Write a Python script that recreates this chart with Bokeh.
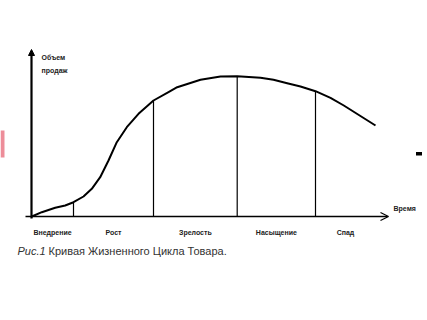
from bokeh.plotting import figure
from bokeh.models import Range1d, Label, Arrow, OpenHead, NormalHead
from bokeh.embed import file_html
from bokeh.resources import INLINE

# Curve of product life cycle (time units, sales volume units)
time_pts = [0.3, 10.3, 23.7, 33.7, 42, 52, 60.3, 68.7, 77, 85.3, 95.3, 107, 122, 137,
            145.7, 169, 189, 205.7, 229, 242, 255.7, 269, 284, 299, 312.3, 344]
sales_pts = [0, 4.3, 8.7, 11, 14.3, 20, 27.7, 39.3, 56, 74.3, 89.3, 102.7, 116, 124.3,
             129.3, 136.7, 140, 140.3, 138.7, 136.7, 133.3, 130, 125.3, 118.7, 111, 91]

# Stage boundaries (time) and names
boundaries = [42, 122, 205.7, 284]
stage_names = ["Внедрение", "Рост", "Зрелость", "Насыщение", "Спад"]
y_title = ["Объем", "продаж"]
x_title = "Время"
caption_fig = "Рис.1"
caption_text = "Кривая Жизненного Цикла Товара."

def curve_at(t):
    for i in range(len(time_pts) - 1):
        if time_pts[i] <= t <= time_pts[i + 1]:
            f = (t - time_pts[i]) / (time_pts[i + 1] - time_pts[i])
            return sales_pts[i] + f * (sales_pts[i + 1] - sales_pts[i])
    return 0

W, H = 427, 320
p = figure(width=W, height=H, output_backend="svg", toolbar_location=None,
           x_range=Range1d(-31, 396), y_range=Range1d(-104, 216),
           min_border=0, min_border_left=0, min_border_right=0,
           min_border_top=0, min_border_bottom=0)
p.axis.visible = False
p.grid.visible = False
p.outline_line_color = None
p.background_fill_color = "white"
p.border_fill_color = "white"

# axes with arrows
p.add_layout(Arrow(end=NormalHead(size=6, fill_color="black", line_color="black"),
                   x_start=0, y_start=-2, x_end=0, y_end=167,
                   line_width=2.2, line_color="black"))
p.add_layout(Arrow(end=OpenHead(size=8, line_width=1.2, line_color="black"),
                   x_start=-6, y_start=0, x_end=357, y_end=0,
                   line_width=1.6, line_color="black"))

# curve
p.line(time_pts, sales_pts, line_width=2, line_color="black", line_join="round")

# stage boundaries
for b in boundaries:
    p.segment(x0=[b], y0=[0], x1=[b], y1=[curve_at(b)], line_width=1.2, line_color="black")

# stage labels at stage midpoints
edges = [0] + boundaries + [time_pts[-1]]
for i, name in enumerate(stage_names):
    mid = (edges[i] + edges[i + 1]) / 2
    p.add_layout(Label(x=mid, y=-16, text=name, text_font="Liberation Sans",
                       text_font_size="7px", text_font_style="bold",
                       text_color="#222222", text_align="center", text_baseline="middle"))

# axis titles
p.add_layout(Label(x=10, y=159, text=y_title[0], text_font="Liberation Sans",
                   text_font_size="7px", text_font_style="bold", text_color="#222222",
                   text_baseline="middle"))
p.add_layout(Label(x=10, y=146, text=y_title[1], text_font="Liberation Sans",
                   text_font_size="7px", text_font_style="bold", text_color="#222222",
                   text_baseline="middle"))
p.add_layout(Label(x=362, y=8, text=x_title, text_font="Liberation Sans",
                   text_font_size="7px", text_font_style="bold", text_color="#222222",
                   text_baseline="middle"))

# caption
p.add_layout(Label(x=-14, y=-34, text=caption_fig, text_font="Liberation Sans",
                   text_font_size="11px", text_font_style="italic", text_color="#333333",
                   text_baseline="middle"))
p.add_layout(Label(x=17, y=-34, text=caption_text, text_font="Liberation Sans",
                   text_font_size="11px", text_color="#333333",
                   text_baseline="middle"))

# scan artifacts
p.quad(left=[-31], right=[-27], bottom=[59], top=[86], fill_color="#e87080",
       line_color=None, fill_alpha=0.8)
p.quad(left=[384.5], right=[390.5], bottom=[61], top=[64.5], fill_color="black",
       line_color=None)

open("out.html", "w").write(file_html(p, INLINE))
